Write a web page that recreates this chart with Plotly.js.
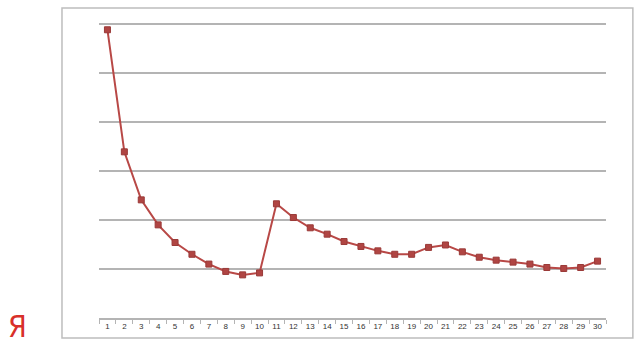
<!DOCTYPE html>
<html>
<head>
<meta charset="utf-8">
<script src="https://cdn.plot.ly/plotly-3.0.1.min.js"></script>
<style>html,body{margin:0;padding:0;background:#fff;}#chart{width:640px;height:346px;}</style>
</head>
<body>
<div id="chart"></div>
<script>
const days = ["1","2","3","4","5","6","7","8","9","10","11","12","13","14","15","16","17","18","19","20","21","22","23","24","25","26","27","28","29","30"];
const values = [5.88,3.39,2.41,1.90,1.54,1.30,1.10,0.95,0.88,0.92,2.33,2.05,1.84,1.71,1.56,1.46,1.37,1.30,1.30,1.44,1.49,1.35,1.24,1.18,1.14,1.10,1.03,1.01,1.03,1.16];
const logoText = "Я";

const trace = {
  x: days, y: values, type: 'scatter', mode: 'lines+markers',
  line: {color: '#b84846', width: 2},
  marker: {symbol: 'square', size: 6, color: '#b04543', line: {color: '#9a3a38', width: 1}},
  hoverinfo: 'skip'
};
const layout = {
  width: 640, height: 346,
  margin: {l: 99, r: 34, t: 19, b: 28},
  paper_bgcolor: '#ffffff', plot_bgcolor: '#ffffff',
  showlegend: false,
  xaxis: {
    type: 'category', range: [-0.5, 29.5],
    showgrid: false, zeroline: false,
    showline: true, linecolor: '#b4b4b4', linewidth: 1.5,
    ticks: 'outside', tickson: 'boundaries', ticklen: 4, tickcolor: '#b4b4b4', tickwidth: 1,
    tickfont: {family: 'Liberation Sans, Arial, sans-serif', size: 8, color: '#333333'},
    tickangle: 0
  },
  yaxis: {
    range: [0, 6.1], dtick: 1, tick0: 0,
    showgrid: true, gridcolor: '#b4b4b4', gridwidth: 1.5,
    zeroline: false, showline: false, showticklabels: false, ticks: ''
  },
  shapes: [{
    type: 'rect', xref: 'paper', yref: 'paper',
    x0: -0.073, x1: 1.053, y0: -0.0669, y1: 1.0368,
    line: {color: '#bdbdbd', width: 1.5}, fillcolor: 'rgba(0,0,0,0)'
  }],
  annotations: [{
    text: logoText, xref: 'paper', yref: 'paper', x: -0.161, y: -0.030,
    xanchor: 'center', yanchor: 'middle', showarrow: false, borderpad: 0,
    font: {family: 'Liberation Sans Narrow, DejaVu Sans Condensed, Liberation Sans, sans-serif', size: 30, color: '#d8302a'}
  }]
};
Plotly.newPlot('chart', [trace], layout, {staticPlot: true, displayModeBar: false});
</script>
</body>
</html>
